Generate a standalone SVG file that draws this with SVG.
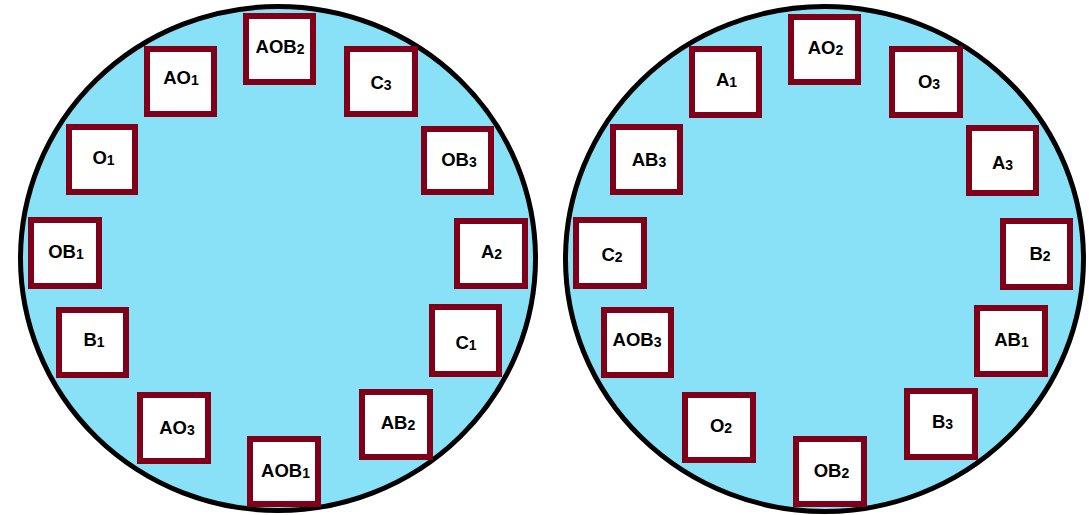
<svg xmlns="http://www.w3.org/2000/svg" width="1089" height="515" viewBox="0 0 1089 515">
<style>
.disk{fill:#89e1f7;stroke:#000;stroke-width:5}
.box{fill:#fff;stroke:#80001a;stroke-width:6}
.lbl{font-family:"Liberation Sans",Arial,sans-serif;font-weight:bold;font-size:18.5px;fill:#000;text-anchor:middle}
.sub{font-size:14px}
</style>
<rect width="1089" height="515" fill="#fff"/>
<g id="circle-left"><ellipse class="disk" cx="278" cy="258.5" rx="257.5" ry="252"/></g>
<g id="circle-right"><ellipse class="disk" cx="824.5" cy="259" rx="259" ry="252.5"/></g>
<g id="connectors"></g>
<g id="AOB2"><rect class="box" x="246" y="16" width="67" height="66"/><text class="lbl" x="280" y="53">AOB<tspan class="sub" dy="1">2</tspan></text></g>
<g id="AO1"><rect class="box" x="147" y="49" width="67" height="65"/><text class="lbl" x="181" y="84">AO<tspan class="sub" dy="1">1</tspan></text></g>
<g id="C3"><rect class="box" x="347" y="49" width="68" height="65"/><text class="lbl" x="381" y="89">C<tspan class="sub" dy="1">3</tspan></text></g>
<g id="O1"><rect class="box" x="69" y="127" width="66" height="65"/><text class="lbl" x="103.5" y="164">O<tspan class="sub" dy="1">1</tspan></text></g>
<g id="OB3"><rect class="box" x="424" y="129" width="67" height="63"/><text class="lbl" x="459" y="166">OB<tspan class="sub" dy="1">3</tspan></text></g>
<g id="OB1"><rect class="box" x="31" y="220" width="68" height="66"/><text class="lbl" x="66" y="258">OB<tspan class="sub" dy="1">1</tspan></text></g>
<g id="A2"><rect class="box" x="457" y="221" width="68" height="65"/><text class="lbl" x="491.5" y="258">A<tspan class="sub" dy="1">2</tspan></text></g>
<g id="B1"><rect class="box" x="59" y="310" width="67" height="65"/><text class="lbl" x="94" y="346">B<tspan class="sub" dy="1">1</tspan></text></g>
<g id="C1"><rect class="box" x="432" y="307" width="67" height="67"/><text class="lbl" x="466" y="349">C<tspan class="sub" dy="1">1</tspan></text></g>
<g id="AO3"><rect class="box" x="140" y="395" width="68" height="66"/><text class="lbl" x="177" y="434">AO<tspan class="sub" dy="1">3</tspan></text></g>
<g id="AB2"><rect class="box" x="362" y="392" width="68" height="65"/><text class="lbl" x="398" y="429">AB<tspan class="sub" dy="1">2</tspan></text></g>
<g id="AOB1"><rect class="box" x="250" y="439" width="68" height="65"/><text class="lbl" x="285.5" y="477">AOB<tspan class="sub" dy="1">1</tspan></text></g>
<g id="AO2"><rect class="box" x="791" y="17" width="67" height="65"/><text class="lbl" x="825.5" y="54">AO<tspan class="sub" dy="1">2</tspan></text></g>
<g id="A1"><rect class="box" x="692" y="49" width="67" height="66"/><text class="lbl" x="726.5" y="86">A<tspan class="sub" dy="1">1</tspan></text></g>
<g id="O3"><rect class="box" x="892" y="49" width="68" height="66"/><text class="lbl" x="929" y="88">O<tspan class="sub" dy="1">3</tspan></text></g>
<g id="AB3"><rect class="box" x="613" y="127" width="67" height="65"/><text class="lbl" x="649" y="166">AB<tspan class="sub" dy="1">3</tspan></text></g>
<g id="A3"><rect class="box" x="969" y="128" width="67" height="65"/><text class="lbl" x="1002.5" y="169">A<tspan class="sub" dy="1">3</tspan></text></g>
<g id="C2"><rect class="box" x="576" y="220" width="68" height="66"/><text class="lbl" x="612" y="261">C<tspan class="sub" dy="1">2</tspan></text></g>
<g id="B2"><rect class="box" x="1003" y="221" width="67" height="66"/><text class="lbl" x="1040" y="260">B<tspan class="sub" dy="1">2</tspan></text></g>
<g id="AOB3"><rect class="box" x="604" y="310" width="67" height="65"/><text class="lbl" x="637" y="346">AOB<tspan class="sub" dy="1">3</tspan></text></g>
<g id="AB1"><rect class="box" x="977" y="308" width="68" height="66"/><text class="lbl" x="1011.5" y="346">AB<tspan class="sub" dy="1">1</tspan></text></g>
<g id="O2"><rect class="box" x="685" y="395" width="68" height="65"/><text class="lbl" x="721" y="432">O<tspan class="sub" dy="1">2</tspan></text></g>
<g id="B3"><rect class="box" x="907" y="391" width="68" height="66"/><text class="lbl" x="942.5" y="428">B<tspan class="sub" dy="1">3</tspan></text></g>
<g id="OB2"><rect class="box" x="796" y="439" width="68" height="65"/><text class="lbl" x="831.5" y="477">OB<tspan class="sub" dy="1">2</tspan></text></g>
</svg>
